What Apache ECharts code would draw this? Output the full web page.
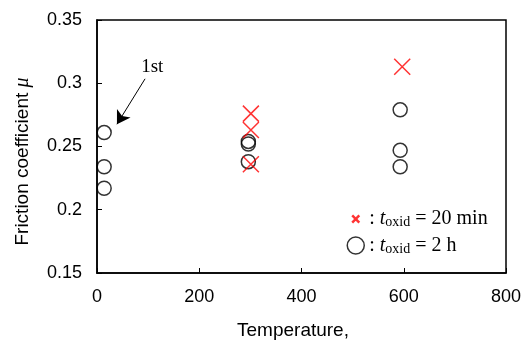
<!DOCTYPE html>
<html>
<head>
<meta charset="utf-8">
<script src="https://cdn.jsdelivr.net/npm/echarts@6/dist/echarts.min.js"></script>
<style>
  html, body { margin: 0; padding: 0; background: #fff; }
  #chart { width: 531px; height: 345px; }
</style>
</head>
<body>
<div id="chart"></div>
<script>
  // values
  var circleTemp = [14, 14, 14, 296, 296, 296, 593, 593, 593];
  var circleMu = [0.261, 0.234, 0.217, 0.254, 0.252, 0.238, 0.279, 0.247, 0.234];
  var crossTemp = [301, 301, 301, 597];
  var crossMu = [0.276, 0.263, 0.236, 0.313];
  var xTicks = [0, 200, 400, 600, 800];
  var yTicks = [0.15, 0.2, 0.25, 0.3, 0.35];
  var arrowFrom = [94, 0.3035];
  var arrowTo = [39, 0.2676];
  var noteAt = [108, 0.3128];

  var serif = 'Liberation Serif';
  var sans = 'Liberation Sans';
  var crossPath = 'path://M0,0L10,10M10,0L0,10';

  function pairs(xs, ys) {
    var out = [];
    for (var i = 0; i < xs.length; i++) out.push([xs[i], ys[i]]);
    return out;
  }

  var myChart = echarts.init(document.getElementById('chart'));
  myChart.setOption({
    animation: false,
    backgroundColor: '#fff',
    grid: {
      left: 97, right: 25, top: 20, bottom: 67,
      show: true, borderColor: '#000', borderWidth: 1.5
    },
    xAxis: {
      type: 'value',
      min: xTicks[0], max: xTicks[xTicks.length - 1], interval: 200,
      name: 'Temperature,',
      nameLocation: 'middle',
      nameGap: 48,
      nameTextStyle: { fontFamily: sans, fontSize: 19, color: '#000', padding: [0, 17, 0, 0] },
      axisLine: { lineStyle: { color: '#000', width: 1.5 } },
      axisTick: { inside: true, length: 5, lineStyle: { color: '#000' } },
      axisLabel: { fontFamily: sans, fontSize: 18, color: '#000', margin: 15 },
      splitLine: { show: false }
    },
    yAxis: {
      type: 'value',
      min: yTicks[0], max: yTicks[yTicks.length - 1], interval: 0.05,
      name: '{n|Friction coefficient }{m|μ}',
      nameLocation: 'middle',
      nameGap: 64,
      nameTextStyle: {
        color: '#000',
        padding: [0, 30, 0, 0],
        rich: {
          n: { fontFamily: sans, fontSize: 19, color: '#000' },
          m: { fontFamily: serif, fontSize: 20, fontStyle: 'italic', color: '#000' }
        }
      },
      axisLine: { lineStyle: { color: '#000', width: 1.5 } },
      axisTick: { inside: true, length: 5, lineStyle: { color: '#000' } },
      axisLabel: {
        fontFamily: sans, fontSize: 18, color: '#000', margin: 15,
        formatter: function (v) { return String(parseFloat(v.toFixed(2))); }
      },
      splitLine: { show: false }
    },
    legend: {
      orient: 'vertical',
      left: 341, top: 204,
      itemWidth: 17, itemHeight: 17, itemGap: 6,
      data: [
        { name: 'x20', icon: 'path://M-7,-7M17,17M0,0L10,10M10,0L0,10',
          itemStyle: { color: 'red', borderColor: 'red', borderWidth: 2.5 } },
        { name: 'c2h', icon: 'circle',
          itemStyle: { color: 'transparent', borderColor: '#000', borderWidth: 1.5 } }
      ],
      formatter: function (name) {
        if (name === 'x20') return '{a|: }{t|t}{s|oxid}{a| = 20 min}';
        return '{a|: }{t|t}{s|oxid}{a| = 2 h}';
      },
      textStyle: {
        color: '#000',
        rich: {
          a: { fontFamily: serif, fontSize: 20, color: '#000' },
          t: { fontFamily: serif, fontSize: 20, fontStyle: 'italic', color: '#000' },
          s: { fontFamily: serif, fontSize: 14, color: '#000', verticalAlign: 'bottom', padding: [7, 0, 0, 0] }
        }
      }
    },
    series: [
      {
        name: 'c2h',
        type: 'scatter',
        symbol: 'circle',
        symbolSize: 14,
        itemStyle: { color: 'transparent', borderColor: '#000', borderWidth: 1.5 },
        data: pairs(circleTemp, circleMu),
        markLine: {
          silent: true,
          symbol: ['none', 'arrow'],
          symbolSize: [12, 13],
          lineStyle: { color: '#000', width: 1, type: 'solid' },
          label: { show: false },
          data: [[{ coord: arrowFrom }, { coord: arrowTo }]]
        },
        markPoint: {
          silent: true,
          symbol: 'circle',
          symbolSize: 0,
          label: {
            show: true, position: 'inside', formatter: '1st',
            fontFamily: serif, fontSize: 19, color: '#000'
          },
          data: [{ coord: noteAt }]
        }
      },
      {
        name: 'x20',
        type: 'scatter',
        symbol: crossPath,
        symbolSize: 16,
        itemStyle: { color: 'red', borderColor: 'red', borderWidth: 1.5 },
        data: pairs(crossTemp, crossMu)
      }
    ]
  });
</script>
</body>
</html>
